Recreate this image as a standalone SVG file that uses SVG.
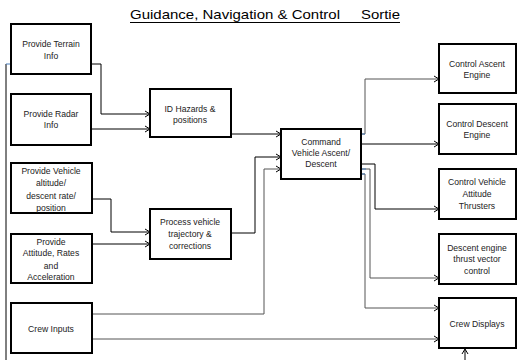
<svg xmlns="http://www.w3.org/2000/svg" width="518" height="360" viewBox="0 0 518 360">
<defs>
<style>
.box{fill:#fff;stroke:#000;stroke-width:2}
.t{font-family:"Liberation Sans",Arial,sans-serif;font-size:8.6px;fill:#222;text-anchor:middle}
.ti{font-family:"Liberation Sans",Arial,sans-serif;font-size:13.5px;fill:#000}
.c{fill:none;stroke:#000;stroke-width:1}
.g{fill:none;stroke:#555;stroke-width:1}
.b{fill:none;stroke:#4a7ebb;stroke-width:1}
</style>
<marker id="ah" markerWidth="8" markerHeight="8" refX="6" refY="4" orient="auto" markerUnits="userSpaceOnUse">
<path d="M1,1 L6,4 L1,7" fill="none" stroke="#000" stroke-width="1"/>
</marker>
</defs>
<rect width="518" height="360" fill="#fff"/>
<g id="title">
<text class="ti" x="130" y="19" textLength="210" lengthAdjust="spacingAndGlyphs">Guidance, Navigation &amp; Control</text>
<text class="ti" x="361" y="19" textLength="39" lengthAdjust="spacingAndGlyphs">Sortie</text>
<line x1="130" y1="22.5" x2="400" y2="22.5" stroke="#000" stroke-width="1.2"/>
</g>
<g id="connectors">
<path class="c" d="M91,64 H101 V114 H150" marker-end="url(#ah)"/>
<path class="c" d="M91,129 H150" marker-end="url(#ah)"/>
<path class="c" d="M92,199 H111 V232 H150" marker-end="url(#ah)"/>
<path class="c" d="M92,244 H150" marker-end="url(#ah)"/>
<path class="c" d="M231,134 H281" marker-end="url(#ah)"/>
<path class="c" d="M231,233 H255 V157 H281" marker-end="url(#ah)"/>
<path class="g" d="M92,314 H264 V169 H281" marker-end="url(#ah)"/>
<path class="g" d="M92,339 H439" marker-end="url(#ah)"/>
<path class="g" d="M361,134 H365 V79 H439" marker-end="url(#ah)"/>
<path class="c" d="M361,144 H439" marker-end="url(#ah)"/>
<path class="c" d="M361,164 H375 V209 H439" marker-end="url(#ah)"/>
<path class="g" d="M361,169 H370 V278 H439" marker-end="url(#ah)"/>
<path class="g" d="M361,174 H365 V308 H439" marker-end="url(#ah)"/>
<path class="c" d="M6,64 V360"/>
<path class="c" d="M465,360 V349" marker-end="url(#ah)"/>
<path class="b" d="M6,64 H11"/>
<path class="b" d="M361,134 H365"/>
<path class="b" d="M361,169 H366"/>
<path class="b" d="M361,174 H365"/>
</g>
<g id="terrain">
<rect class="box" x="11" y="24" width="80" height="50"/>
<text class="t" x="51" y="47">Provide Terrain</text>
<text class="t" x="51" y="59">Info</text>
</g>
<g id="radar">
<rect class="box" x="11" y="94" width="80" height="51"/>
<text class="t" x="51" y="117">Provide Radar</text>
<text class="t" x="51" y="128">Info</text>
</g>
<g id="hazards">
<rect class="box" x="150" y="89" width="81" height="48"/>
<text class="t" x="190" y="112">ID Hazards &amp;</text>
<text class="t" x="190" y="123">positions</text>
</g>
<g id="vehicle">
<rect class="box" x="11" y="163" width="81" height="50"/>
<text class="t" x="51" y="174">Provide Vehicle</text>
<text class="t" x="51" y="186">altitude/</text>
<text class="t" x="51" y="199">descent rate/</text>
<text class="t" x="51" y="211">position</text>
</g>
<g id="attitude">
<rect class="box" x="11" y="234" width="81" height="49"/>
<text class="t" x="51" y="245">Provide</text>
<text class="t" x="51" y="256">Attitude, Rates</text>
<text class="t" x="51" y="269">and</text>
<text class="t" x="51" y="280">Acceleration</text>
</g>
<g id="process">
<rect class="box" x="150" y="209" width="81" height="50"/>
<text class="t" x="190" y="225">Process vehicle</text>
<text class="t" x="190" y="237">trajectory &amp;</text>
<text class="t" x="190" y="249">corrections</text>
</g>
<g id="crewinputs">
<rect class="box" x="11" y="303" width="81" height="50"/>
<text class="t" x="51" y="332">Crew Inputs</text>
</g>
<g id="command">
<rect class="box" x="281" y="129" width="80" height="50"/>
<text class="t" x="321" y="145">Command</text>
<text class="t" x="321" y="156">Vehicle Ascent/</text>
<text class="t" x="321" y="167">Descent</text>
</g>
<g id="ascent">
<rect class="box" x="439" y="44" width="77" height="49"/>
<text class="t" x="477" y="67">Control Ascent</text>
<text class="t" x="477" y="78">Engine</text>
</g>
<g id="descent">
<rect class="box" x="439" y="104" width="77" height="50"/>
<text class="t" x="477" y="127">Control Descent</text>
<text class="t" x="477" y="138">Engine</text>
</g>
<g id="thrusters">
<rect class="box" x="439" y="169" width="77" height="50"/>
<text class="t" x="477" y="185">Control Vehicle</text>
<text class="t" x="477" y="197">Attitude</text>
<text class="t" x="477" y="209">Thrusters</text>
</g>
<g id="tvc">
<rect class="box" x="439" y="234" width="77" height="50"/>
<text class="t" x="477" y="251">Descent engine</text>
<text class="t" x="477" y="262">thrust vector</text>
<text class="t" x="477" y="274">control</text>
</g>
<g id="displays">
<rect class="box" x="439" y="298" width="77" height="50"/>
<text class="t" x="477" y="327">Crew Displays</text>
</g>
</svg>
